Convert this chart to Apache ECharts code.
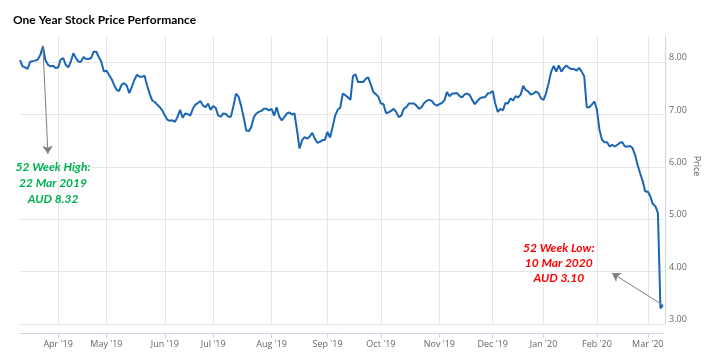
<!DOCTYPE html>
<html>
<head>
<meta charset="utf-8">
<script src="https://cdn.jsdelivr.net/npm/echarts@6/dist/echarts.min.js"></script>
<style>
html,body{margin:0;padding:0;background:#fff;}
#chart{width:713px;height:353px;}
</style>
</head>
<body>
<div id="chart"></div>
<script>
// trading days shown on the chart (ASX), grouped by month
var tradingDays = [
    ['2019-03', [11,12,13,14,15,18,19,20,21,22,25,26,27,28,29]],
    ['2019-04', [1,2,3,4,5,8,9,10,11,12,15,16,17,18,23,24,26,29,30]],
    ['2019-05', [1,2,3,6,7,8,9,10,13,14,15,16,17,20,21,22,23,24,27,28,29,30,31]],
    ['2019-06', [3,4,5,6,7,11,12,13,14,17,18,19,20,21,24,25,26,27,28]],
    ['2019-07', [1,2,3,4,5,8,9,10,11,12,15,16,17,18,19,22,23,24,25,26,29,30,31]],
    ['2019-08', [1,2,5,6,7,8,9,12,13,14,15,16,19,20,21,22,23,26,27,28,29,30]],
    ['2019-09', [2,3,4,5,6,9,10,11,12,13,16,17,18,19,20,23,24,25,26,27,30]],
    ['2019-10', [1,2,3,4,7,8,9,10,11,14,15,16,17,18,21,22,23,24,25,28,29,30,31]],
    ['2019-11', [1,4,5,6,7,8,11,12,13,14,15,18,19,20,21,22,25,26,27,28,29]],
    ['2019-12', [2,3,4,5,6,9,10,11,12,13,16,17,18,19,20,23,24,27,30,31]],
    ['2020-01', [2,3,6,7,8,9,10,13,14,15,16,17,20,21,22,23,24,28,29,30,31]],
    ['2020-02', [3,4,5,6,7,10,11,12,13,14,17,18,19,20,21,24,25,26,27,28]],
    ['2020-03', [2,3,4,5,6,9,10]]
];
var tickLabels = ["Apr '19", "May '19", "Jun '19", "Jul '19", "Aug '19", "Sep '19",
    "Oct '19", "Nov '19", "Dec '19", "Jan '20", "Feb '20", "Mar '20"];
var prices = [
    8.04, 7.92, 7.90, 7.87, 8.01, 8.02, 8.03, 8.05, 8.14, 8.30,
    8.04, 7.95, 7.92, 7.93, 7.89, 7.90, 8.05, 8.08, 7.95, 7.90,
    8.01, 8.17, 8.08, 8.01, 8.01, 8.10, 8.06, 8.06, 8.08, 8.20,
    8.20, 8.10, 8.01, 7.82, 7.84, 7.76, 7.68, 7.57, 7.47, 7.45,
    7.57, 7.60, 7.55, 7.41, 7.53, 7.66, 7.76, 7.72, 7.72, 7.74,
    7.56, 7.40, 7.27, 7.24, 7.19, 7.14, 7.08, 6.98, 6.90, 6.88,
    6.89, 6.86, 6.96, 7.09, 6.94, 7.02, 7.01, 6.98, 7.11, 7.19,
    7.22, 7.26, 7.17, 7.14, 7.21, 7.09, 7.16, 7.13, 6.98, 6.96,
    7.02, 7.01, 6.96, 6.96, 7.17, 7.40, 7.34, 7.17, 6.95, 6.70,
    6.68, 6.76, 6.95, 7.02, 7.05, 7.07, 7.11, 7.11, 7.08, 7.11,
    6.98, 7.14, 6.96, 6.89, 6.95, 7.02, 7.04, 7.00, 7.02, 6.70,
    6.35, 6.51, 6.57, 6.54, 6.58, 6.65, 6.54, 6.46, 6.48, 6.51,
    6.52, 6.67, 6.56, 6.76, 6.98, 7.09, 7.13, 7.40, 7.37, 7.33,
    7.28, 7.73, 7.77, 7.62, 7.62, 7.62, 7.68, 7.71, 7.58, 7.43,
    7.39, 7.34, 7.21, 7.20, 7.03, 7.04, 7.07, 7.11, 7.05, 6.95,
    6.98, 7.11, 7.14, 7.21, 7.21, 7.21, 7.17, 7.11, 7.14, 7.22,
    7.26, 7.28, 7.26, 7.20, 7.17, 7.20, 7.22, 7.27, 7.43, 7.35,
    7.40, 7.40, 7.41, 7.35, 7.33, 7.39, 7.40, 7.37, 7.27, 7.20,
    7.26, 7.31, 7.33, 7.33, 7.40, 7.41, 7.45, 7.21, 7.05, 7.11,
    7.08, 7.22, 7.21, 7.31, 7.27, 7.35, 7.33, 7.38, 7.55, 7.47,
    7.44, 7.38, 7.40, 7.44, 7.41, 7.31, 7.28, 7.41, 7.60, 7.82,
    7.93, 7.82, 7.94, 7.82, 7.89, 7.94, 7.89, 7.87, 7.87, 7.84,
    7.89, 7.82, 7.73, 7.14, 7.14, 7.19, 7.25, 7.09, 6.71, 6.52,
    6.47, 6.47, 6.39, 6.42, 6.39, 6.42, 6.46, 6.47, 6.39, 6.39,
    6.40, 6.36, 6.23, 6.04, 5.88, 5.73, 5.53, 5.53, 5.44, 5.29,
    5.25, 5.12, 3.30, 3.36
];
// 52 week high / low notes
var highNote = {date: '2019-03-22', value: 8.32, text: '52 Week High:\n22 Mar 2019\nAUD 8.32'};
var lowNote = {date: '2020-03-10', value: 3.10, text: '52 Week Low:\n10 Mar 2020\nAUD 3.10'};

var dates = [];
var monthLabel = {};
tradingDays.forEach(function (m, k) {
    m[1].forEach(function (d, j) {
        var s = m[0] + '-' + (d < 10 ? '0' + d : d);
        if (j === 0 && k > 0) monthLabel[s] = tickLabels[k - 1];
        dates.push(s);
    });
});
function isMonthStart(index, value) {
    return monthLabel[dates[index]] !== undefined;
}
var last = dates.length - 1;

var dom = document.getElementById("chart");
var myChart = echarts.init(dom);
var option = {
    animation: false,
    title: {
        text: 'One Year Stock Price Performance',
        left: 8,
        top: 9,
        textStyle: {fontFamily: 'Lato', fontWeight: 'bold', fontSize: 12, color: '#000'}
    },
    grid: {left: 20, right: 50, top: 36, bottom: 29},
    xAxis: {
        type: 'category',
        data: dates,
        boundaryGap: false,
        offset: 9,
        axisLine: {lineStyle: {color: '#ccd6eb'}},
        axisTick: {interval: isMonthStart, length: 5, lineStyle: {color: '#ccd6eb'}},
        axisLabel: {
            interval: isMonthStart,
            formatter: function (v) { return monthLabel[v] || ''; },
            color: '#666', fontSize: 9, fontFamily: 'Open Sans', margin: 7
        },
        splitLine: {show: true, interval: isMonthStart, lineStyle: {color: '#e6e6e6'}}
    },
    yAxis: {
        type: 'value',
        position: 'right',
        min: 3,
        max: 8.5,
        interval: 1,
        offset: 2,
        axisLine: {show: true, lineStyle: {color: '#ccd6eb'}},
        axisTick: {show: false},
        axisLabel: {
            formatter: function (v) { return v.toFixed(2); },
            showMaxLabel: false,
            color: '#666', fontSize: 9, fontFamily: 'Open Sans',
            align: 'left', verticalAlign: 'bottom', margin: 4
        },
        splitLine: {showMaxLine: false, lineStyle: {color: '#e6e6e6'}}
    },
    graphic: [{
        type: 'text',
        x: 697, y: 166,
        rotation: -Math.PI / 2,
        style: {text: 'Price', fill: '#666', font: '9px "Open Sans"', align: 'center', verticalAlign: 'middle'}
    }],
    series: [{
        type: 'line',
        data: prices,
        symbol: 'none',
        lineStyle: {color: '#1a66b5', width: 2},
        markLine: {
            silent: true,
            symbol: ['none', 'arrow'],
            symbolSize: 8,
            label: {show: false},
            lineStyle: {color: '#7f7f7f', width: 1, type: 'solid'},
            emphasis: {disabled: true},
            data: [
                [{coord: [highNote.date, highNote.value]}, {coord: [dates[11], 6.25]}],
                [{coord: [dates[last], prices[last]]}, {coord: [dates[233], 3.97]}]
            ]
        },
        markPoint: {
            silent: true,
            symbol: 'circle',
            symbolSize: 1,
            itemStyle: {color: 'rgba(0,0,0,0)'},
            data: [
                {coord: [dates[13], 5.69], label: {show: true, position: 'inside', formatter: highNote.text,
                    color: '#00b050', fontFamily: 'Lato', fontStyle: 'italic', fontWeight: 'bold', fontSize: 12, lineHeight: 16, align: 'center'}},
                {coord: [dates[212], 4.16], label: {show: true, position: 'inside', formatter: lowNote.text,
                    color: '#ff0000', fontFamily: 'Lato', fontStyle: 'italic', fontWeight: 'bold', fontSize: 12, lineHeight: 15, align: 'center'}}
            ]
        }
    }]
};
if (option && typeof option === "object") {
    myChart.setOption(option);
}
</script>
</body>
</html>
